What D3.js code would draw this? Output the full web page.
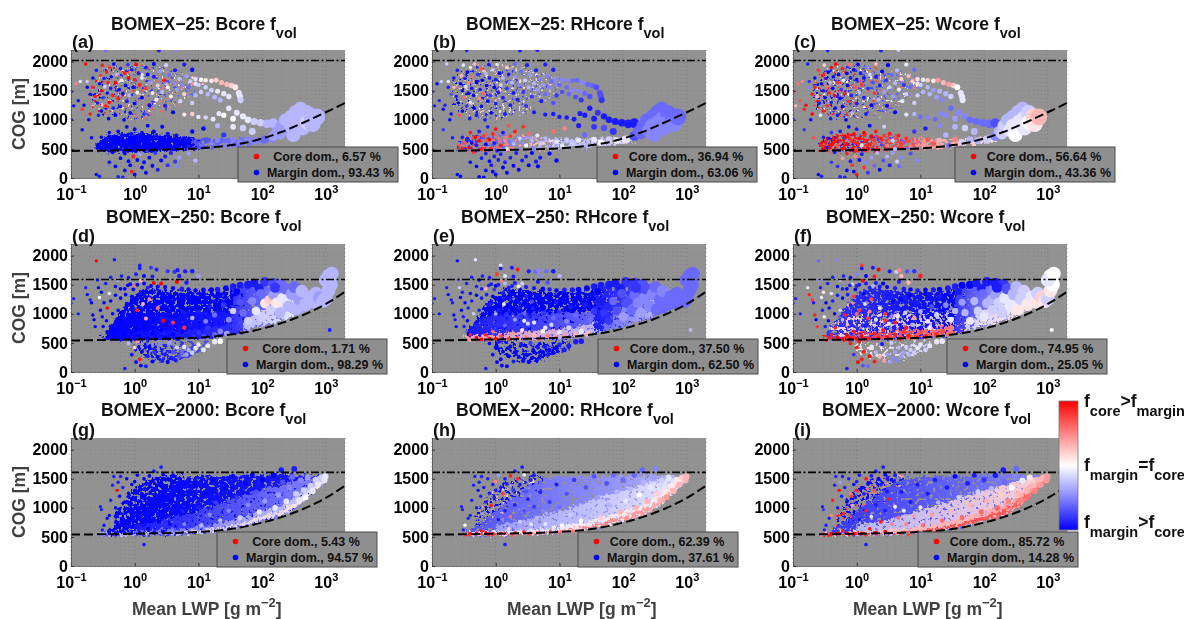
<!DOCTYPE html>
<html><head><meta charset="utf-8">
<script src="https://cdn.jsdelivr.net/npm/d3@7"></script>
<style>html,body{margin:0;padding:0;background:#fff}svg{display:block;filter:blur(.35px)}text{font-family:"Liberation Sans",Arial,sans-serif;font-weight:bold}</style>
</head><body><svg id="c" width="1184" height="619"></svg>
<script>
// ---- data ----
const xTickValues=[0.1,1,10,100,1000];
const xTickExp=["−1","0","1","2","3"];
const yTickValues=[0,500,1000,1500,2000];
const titleRuns=["BOMEX−25","BOMEX−250","BOMEX−2000"];
const coreNames=["Bcore","RHcore","Wcore"];
const panelLetters=["a","b","c","d","e","f","g","h","i"];
const corePct=[6.57,36.94,56.64,1.71,37.50,74.95,5.43,62.39,85.72];
const marginPct=[93.43,63.06,43.36,98.29,62.50,25.05,94.57,37.61,14.28];
const cloudTop=[2020,1590,1610];
const baseCurve25=[[.1,465],[.3,470],[1,480],[3,490],[10,510],[30,560],[60,615],[100,680],[200,790],[400,930],[1000,1130],[2000,1290]];
const baseCurve250=[[.1,540],[.3,550],[1,560],[3,570],[10,590],[30,640],[60,690],[100,745],[200,840],[400,960],[1000,1170],[2000,1380]];
const baseCurve2000=[[.1,540],[.3,545],[1,555],[3,565],[10,585],[30,630],[60,690],[100,745],[200,840],[400,960],[1000,1170],[2000,1380]];
const curves=[baseCurve25,baseCurve250,baseCurve2000];

// dense clouds: [lwp, lower cog, upper cog]
const band25Upper=[[.22,1250,1650],[.4,1050,1900],[1,1020,1970],[3,1100,1900],[6,1300,1800],[13,1520,1700]];
const band25Left=[[.26,480,600],[.4,455,730],[1,450,760],[3,470,740],[6,490,690],[11,505,650]];
const band25Right=[[8,505,680],[30,525,670],[60,560,690],[100,590,700],[160,620,720]];
const band250Main=[[.35,570,700],[.5,560,900],[.7,558,1150],[1,560,1320],[1.5,565,1430],[3,570,1410],[6,580,1380],[12,595,1370],[25,630,1390],[55,700,1440]];
const band250Mid=[[.4,570,800],[1,570,1000],[3,575,1020],[10,590,1020],[25,640,1040],[55,700,1050]];
const band250Low=[[.3,545,600],[1,555,660],[3,565,700],[10,590,740],[25,630,800],[55,690,860]];
const band250Right=[[35,670,1440],[100,790,1500],[200,880,1490],[400,1000,1400],[700,1120,1330]];
const band250Pale=[[50,700,860],[100,790,1080],[200,880,1230],[350,980,1300]];
const band250Island=[[1,350,520],[2,220,500],[3,170,480],[5,190,500],[8,280,530],[15,400,560]];
const band2000Spread=[[.5,650,900],[.8,750,1200],[1.5,900,1450],[3,1100,1540],[6,1350,1570]];
const band2000Outer=[[.35,530,580],[.6,530,750],[1,535,950],[2,540,1200],[4,550,1420],[10,575,1530],[30,640,1545],[100,790,1565],[250,930,1580],[400,1080,1560],[600,1260,1550],[950,1440,1540]];
const band2000Mid=[[1,535,700],[3,545,800],[10,575,950],[30,640,1120],[100,790,1300],[250,930,1420],[400,1080,1480],[600,1260,1510],[950,1440,1530]];
const band2000Low=[[.3,525,570],[1,535,600],[3,545,620],[10,575,680],[30,640,780],[100,790,950],[250,930,1110],[400,1080,1250],[600,1260,1400],[950,1440,1500]];
const band2000Rim=[[.28,525,560],[3,545,570],[10,575,610],[30,640,690],[100,790,860],[250,930,1020],[400,1080,1160],[600,1260,1320],[950,1440,1470]];
const bandsByRow=[
 [band25Upper,band25Upper,band25Upper,band25Left,band25Left,band25Right],
 [band250Island,band250Main,band250Mid,band250Low,band250Right,band250Pale],
 [band2000Spread,band2000Spread,band2000Outer,band2000Mid,band2000Low,band2000Rim]];
// dominance of each cloud at its left and right end (-10 margin … +10 core), one row per panel
const bandF=[
 [[10,4],[-10,-6],[2,1],[-10,-10],[-10,-10],[-7,-5]],
 [[4,1],[-10,-6],[1,-2],[9,1],[-9,-2],[-3,-2]],
 [[10,5],[-10,-5],[1,0],[10,7],[-10,-6],[5,1]],
 [[-10,-7],[-10,-10],[-10,-9],[-10,-8],[-8,-3],[-3,-1]],
 [[-10,-10],[-10,-10],[-9,-6],[4,-3],[-9,-6],[-6,-3]],
 [[1,-2],[-8,-10],[2,-3],[9,5],[-8,-1],[-2,1]],
 [[-10,-10],[-10,-10],[-10,-9],[-9,-5],[-7,-2],[-3,1]],
 [[-10,-9],[4,-1],[-7,-3],[-4,-1],[-1,1],[8,3]],
 [[-10,-9],[9,3],[-8,-5],[-3,2],[2,4],[9,6]]];
const bandCover=[
 [.1,.18,.07,.92,.92,.75],[.08,.2,.1,.42,.42,.75],[.12,.2,.07,.62,.28,.75],
 [.55,.93,1,1,1,.92],[.55,.93,1,.95,1,.92],[.4,.9,.45,.75,1,.9],
 [.75,.25,.97,1,1,1],[.42,.12,.92,1,1,1],[.48,.18,.92,1,1,1]];

// individual clouds: [lwp, cog, f Bcore, f RHcore, f Wcore]
const points25=[
[.1,1480,-9,-10,9],[.1,1010,-10,-10,-9],[.11,1240,-10,-9,3],[.12,1620,5,-10,6],[.13,1330,-10,-9,7],[.14,1660,-1,-2,5],[.15,1180,8,-10,9],[.15,830,-10,-8,-8],[.16,1250,-10,-9,10],[.17,1960,10,-2,-9],[.18,1660,-2,-1,-8],[.18,1560,-10,-9,-5],[.19,1000,-10,-10,-10],[.2,1440,-10,-7,9],[.2,1100,9,-10,10],[.21,690,-10,-9,7],[.22,1560,9,3,9],[.22,1720,-10,-10,-10],[.24,1400,9,-9,3],[.25,1850,-9,-9,8],
[.26,1290,-9,-10,-9],[.27,1080,-9,7,-1],[.28,1620,-10,-10,-10],[.29,1760,8,3,9],[.3,1500,10,-10,-9],[.3,1150,-10,-10,9],[.31,1940,9,-1,2],[.32,1380,-8,6,-10],[.33,1710,-9,-9,-9],[.34,1570,-2,-1,6],[.35,2190,-6,-9,-9],[.35,1240,9,-8,8],[.36,1820,9,-10,-10],[.37,1460,-10,-10,9],[.38,1640,9,5,-3],[.39,1020,-10,-9,-9],[.4,1900,8,-1,10],[.4,1300,10,-1,-9],[.42,1540,-9,-9,-10],[.43,1740,-10,6,-10],[.45,1420,9,-10,10],[.46,1200,-9,-10,-10],[.47,1960,-10,3,10],[.5,1640,10,-10,8],[.5,1080,-10,-9,-9],[.52,1780,-3,-8,-10],[.55,1370,9,5,-10],[.57,1520,-10,-9,-8],[.6,1880,-9,7,9],[.6,1230,-9,-10,-10],
[.62,1680,-1,-10,-1],[.65,1450,-10,6,9],[.68,1000,-10,-9,-10],[.7,1800,9,-3,-10],[.72,1590,-10,-10,-10],[.75,1320,-9,-10,8],[.78,1950,-8,-9,6],[.8,1720,10,-9,-9],[.82,1420,-3,-8,-9],[.85,1120,-10,-10,-3],[.9,1860,-9,-2,-10],[.95,1560,-10,-10,7],[1,1690,9,-9,-10],[1,1280,-10,-9,-9],[1.05,1950,10,-1,-10],[1.1,1470,0,-9,-3],[1.15,1800,-9,-10,-9],[1.2,1600,9,-2,8],[1.3,1380,-10,-9,-9],[1.3,1720,-1,-3,-10],[1.4,1100,-8,-9,-9],[1.5,1900,-9,2,-5],[1.5,1540,8,-8,-8],[1.6,1780,-10,-9,-2],[1.7,1250,-10,-9,-10],[1.8,1640,-4,-3,-7],[1.9,1460,1,-9,8],[2,1960,-10,-6,3],[2,1740,-9,-4,-9],[2.2,1350,1,-9,-3],
[2.3,1590,2,-5,-9],[2.4,2190,-9,-9,-9],[2.5,1830,-4,-6,-10],[2.7,1480,-3,-8,-4],[2.9,1680,9,-2,-8],[3,1240,-9,-8,-10],[3.1,1940,-2,-9,-10],[3.3,1560,1,-3,-2],[3.5,1770,-6,-4,-6],[3.7,1400,1,-8,-4],[4,1630,-5,-3,-3],[4,1130,-10,-9,-10],[4.3,1850,-9,-9,-3],[4.5,2200,-5,-9,-2],[4.6,1520,-4,-4,-1],[5,1700,-3,-5,2],[5.2,1320,-2,-9,-1],[5.5,1600,-5,-4,-8],[6,1950,-9,-9,-1],[6,1440,2,-6,-2],[6.5,1750,-4,-5,3],[7,1560,-6,-5,-6],[7.5,1660,-2,-6,2],[8,1860,-10,-9,-6],[8,1290,-2,-7,-2],[9,1620,-1,-5,1],
[9,1700,-1,-5,1],[11,1690,0,-5,-1],[13,1680,1,-5,2],[16,1670,1,-6,1],[19,1680,2,-6,4],[23,1640,3,-5,3],[28,1610,3,-6,4],[33,1590,2,-6,2],[38,1560,1,-7,0],[43,1460,-1,-7,-1],[45,1400,-1,-7,-1],[46,1340,-2,-8,-1],[10,1600,-2,-6,-2],[13,1560,-2,-6,-3],[16,1510,-2,-5,-4],[20,1490,-1,-5,-3],[25,1450,-1,-6,-3],[30,1400,-1,-7,-2],[11,1480,-2,-7,-3],[14,1440,-3,-6,-3],[18,1390,-3,-7,-4],[22,1340,-3,-8,-5],[9,1420,-3,-8,-2],
[6,1090,1,-9,-1],[8,1100,2,-9,-3],[10,1050,-1,-9,-6],[13,1040,-2,-9,-5],[17,1010,-1,-9,-6],[21,1110,-1,-9,-5],[25,1080,0,-9,-5],[30,1200,-1,-9,-6],[35,1020,0,-9,-4],[40,1120,-1,-8,-5],[50,1060,-1,-9,-5],[60,1000,-1,-9,-6],[75,970,-2,-9,-6],[95,950,-2,-9,-6],[120,930,-3,-9,-6],[150,940,-3,-9,-7],[35,880,-1,-8,-3],[50,860,-2,-7,-2],[70,800,-2,-8,-3],[20,900,-3,-9,-5],
[150,720,-4,-7,-5],[170,800,-4,-6,-3],[200,900,-4,-6,-2],[190,760,-4,-6,-2],[230,1000,-3,-6,-3],[250,820,-4,-5,-1],[280,1050,-3,-6,-3],[280,900,-3,-5,-1],[310,740,-3,-5,0],[340,1130,-3,-6,-3],[350,960,-3,-5,-1],[400,1180,-3,-6,-3],[420,1020,-3,-5,-1],[430,860,-3,-5,-1],[500,1120,-3,-6,-2],[520,960,-2,-5,0],[600,1060,-3,-6,2],[620,930,-3,-5,1],[720,1050,-3,-6,3],
[.27,560,-10,7,9],[.3,700,-10,-9,-9],[.3,500,-10,9,10],[.33,600,-10,7,9],[.36,680,-10,-9,-10],[.38,520,-10,10,10],[.4,780,-10,9,-8],[.42,600,-10,-10,10],[.45,480,-10,8,9],[.48,700,-10,10,10],[.5,560,-10,-9,7],[.55,800,-10,-9,-9],[.55,640,-10,10,9],[.6,500,-10,9,10],[.65,720,-10,8,10],[.7,580,-10,-10,10],[.75,880,-10,-9,-10],[.8,660,-10,10,8],[.85,500,-10,9,10],[.9,760,-10,9,10],[.95,600,-10,-9,9],[1,840,-10,9,-9],[1.05,470,-10,-9,9],[1.1,680,-10,6,10],[1.2,560,-10,9,-1],[1.3,780,-10,-9,10],[1.4,640,-10,5,9],[1.5,500,-10,-1,10],[1.6,900,-10,7,-10],[1.7,720,-10,8,10],[1.9,590,-10,-3,7],[2,800,-10,9,9],[2.2,480,-10,-5,8],[2.4,680,-10,-2,9],[2.7,880,-10,8,-2],[3,560,-10,0,5],[3.3,760,-10,6,9],[3.7,640,-10,-3,-2],[4,500,-10,-5,-3],[4.5,730,-10,-1,9],[5,590,-10,-2,8],[6,680,-10,-3,8],[7,540,-9,-4,5],[8,800,-10,6,-8],[9,620,-7,-1,6],[11,560,-6,-1,4],[12,850,-10,5,-9],[13,660,-7,-2,7],[16,590,-5,-2,7],[20,650,-5,-1,3],[25,740,-8,-6,-3],[28,560,-5,-3,-6],[35,660,-5,-1,5],[45,610,-5,0,-2],[60,660,-5,-2,-3],[80,640,-5,-1,-3],[110,660,-6,-1,-2],
[.25,60,-10,-10,-10],[.28,30,-9,-10,-9],[.4,270,-10,-10,-8],[.45,440,-10,8,-9],[.5,200,-10,-10,-8],[.55,20,-9,-10,-9],[.6,340,-10,-9,4],[.65,10,-9,-10,-9],[.7,130,-10,-10,-10],[.7,420,-10,-9,9],[.8,290,-10,-10,-9],[.85,220,-10,-9,8],[.9,110,9,-10,-10],[.95,370,9,-9,5],[1,60,-10,-10,9],[1.1,310,-10,-9,-10],[1.2,410,-4,-9,-9],[1.3,180,-10,-10,8],[1.4,270,-10,-9,-5],[1.5,90,-10,-10,-8],[1.7,350,-10,-9,-4],[1.9,210,-10,-10,-6],[2.1,430,-8,-9,-3],[2.3,140,-9,-10,-10],[2.6,300,-10,-9,-7],[3,370,-9,-9,-3],[3.3,220,-8,-10,-9],[3.7,430,-9,-10,-4],[4.3,280,-8,-9,-2],[4.6,200,-5,-10,-6],[5,350,-4,-9,-5],[7,420,-4,-10,-7],[9,300,-3,-10,-5]
];
const points250=[
[.1,1180,-9,-9,-9],[.11,1260,-9,-9,-9],[.13,1000,-9,-9,-9],[.17,1450,-9,-9,-1],[.18,1330,-10,-10,9],[.2,1240,-9,-9,8],[.21,1190,-10,-9,-9],[.22,980,-10,-10,9],[.23,900,-10,-9,-10],[.24,780,-10,-10,8],[.25,1910,10,-10,-6],[.26,1580,-9,-6,-4],[.27,1450,-10,-2,-9],[.28,1280,0,-10,-1],[.29,1060,-10,-10,-9],[.3,1370,-10,-9,1],[.31,950,-10,-9,0],[.33,1190,-10,-10,-10],[.35,1520,-9,-9,-9],[.37,1100,10,-9,-10],
[.4,1350,-1,-10,-1],[.42,1630,-9,-9,-9],[.45,1000,-10,-2,-10],[.48,1930,-9,-1,-5],[.5,1470,-10,-9,-10],[.55,1580,-3,-10,-2],[.6,1270,-10,-9,-10],[.62,1650,-9,-9,-9],[.7,1430,-10,3,-10],[.75,1150,-10,-9,3],[.8,1620,-9,-9,-10],[.85,1510,-10,-9,-2],[.9,1300,-10,-10,8],[1,1480,6,-10,-9],[1.05,1680,-9,8,-5],[1.1,1060,9,-9,8],[1.2,1830,-9,-1,8],[1.2,1780,-9,-9,-9],[1.25,1570,3,5,10],[1.3,1350,-10,-9,-10],
[1.35,1170,3,-1,-1],[1.4,1650,-10,-1,-10],[1.5,920,4,-9,8],[1.6,1450,-9,-9,-9],[1.7,1250,5,-9,7],[1.8,1790,-8,-9,-9],[1.9,1640,-9,-9,9],[2,1530,10,-9,-9],[2.2,1760,-9,9,10],[2.3,1100,6,-9,-1],[2.6,1520,10,-2,-10],[2.8,880,10,-1,8],[3,1300,-10,-9,-9],[3.3,1730,-8,-9,-9],[3.7,1210,-10,-7,-10],[4,850,8,-1,9],[4.2,1720,-8,-6,-2],[4.6,1550,10,-9,-9],[4.7,1750,-9,-5,5],[5,1650,-9,-5,3],[5.5,1420,-9,-10,-9],[6,760,8,-1,9],[6.2,1730,-9,-6,-7],[6.5,1540,-9,-7,3],[8,1730,-9,-9,-8],[10,1650,-4,-3,9],
[.32,780,-10,-9,-9],[.36,880,-10,-10,-10],[.42,1220,-10,-9,-9],[.46,760,-10,-9,9],[.5,1320,-10,-10,-9],[.55,1060,-10,-9,-2],[.6,1430,-10,-9,-9],[.66,980,-10,-10,9],[.72,1330,-10,-9,-9],[.78,1490,-10,-9,-9],[.85,1180,-10,-9,5],[.95,1420,-10,-8,-10],[1.1,1500,-10,-9,-9],[1.4,1520,-10,-3,-9],[1.8,1480,-10,-9,-3],[2.3,1470,-10,-1,-9],[3,1460,-10,-9,-10],[4,1440,-10,-9,-9],[5.5,1430,-9,-10,-9],[7,1420,-10,-9,-10],[9,1400,-10,-10,-9],[12,1410,-10,-9,-10],[16,1410,-10,-9,-9],[20,1420,-9,-10,-10],[27,1440,-10,-10,-9],[35,1470,-9,-9,-9],[45,1490,-9,-9,-10],[60,1500,-9,-9,-10],[75,1530,-9,-9,-9],[110,1550,-8,-8,-9],[150,1530,-7,-8,-9],[200,1510,-6,-7,-8],
[.4,640,-10,9,9],[.5,590,-10,10,10],[.6,560,-10,10,10],[.7,640,-10,9,10],[.8,580,-10,9,10],[.9,700,-10,6,9],[1,570,-10,10,10],[1.2,620,-10,7,10],[1.4,800,-10,-6,-9],[1.6,570,-10,8,9],[1.9,660,-10,4,9],[2.2,580,-10,7,10],[2.6,720,-10,1,9],[3,600,-10,5,9],[3.5,950,-10,-9,-5],[4,640,-10,3,9],[4.8,570,-10,6,8],[5.5,700,-10,0,8],[6.5,620,-9,5,9],[7.5,810,-9,-2,-3],[8.5,600,-8,4,8],[10,680,-8,-1,7],[12,610,-7,4,9],[14,760,-8,-2,-1],[18,640,-6,3,8],[22,700,-5,-1,7],[28,660,-4,3,6],
[.6,900,-10,-9,-3],[.8,1150,-10,-9,-9],[1,1000,-10,-3,6],[1.3,1260,-10,-9,-9],[1.6,1040,-10,-9,5],[2,900,-10,-4,-1],[2.4,1180,-10,-9,-9],[2.8,1000,-10,-6,8],[3.2,830,-10,-2,1],[3.8,1100,-10,-9,-9],[4.4,950,-10,-8,1],[5,1250,-10,-10,-10],[5.8,1020,-9,-8,-2],[6.8,1310,-10,-10,-10],[8,930,-3,-6,4],[9,1200,-10,-9,-9],[10,1040,-9,-8,-3],[12,1340,-10,-10,-10],[13,870,-5,-5,1],[15,1120,-9,-9,-7],[18,980,-6,-6,-2],[20,1300,-10,-10,-9],[25,1150,-8,-9,-5],[30,900,-5,-6,-1],[35,1050,-2,-8,-3],[40,1380,-10,-10,-9],[45,1200,-7,-9,-4],
[50,1020,-6,-8,-3],[60,880,-2,-8,-1],[70,1220,-5,-6,-3],[80,1050,-1,-7,-2],[90,1440,-9,-9,-9],[95,1350,-6,-7,-6],[100,950,-2,-4,-1],[110,1180,1,-7,-3],[130,1240,2,-7,-3],[135,1060,-2,-6,-2],[150,1320,-4,-6,-4],[160,1450,-8,-8,-9],[170,1190,1,-5,-2],[190,1020,-3,-4,-2],[210,1270,-1,-5,-1],[230,1430,-6,-7,-7],[260,1130,-3,-5,-1],[290,1340,-4,-5,-3],[320,1460,-6,-6,-3],[340,1080,-3,-6,1],[380,1250,-4,-6,-2],[420,1390,-3,-5,-2],[480,1160,-3,-6,1],[560,1290,-3,-6,-1],[640,1200,-3,-6,1],[700,1350,-3,-6,-2],[800,1280,-4,-6,2],[900,1220,-3,-6,1],[1000,1260,-3,-6,-2],[1100,1400,-3,-6,1],[1200,1500,-3,-6,0],[1180,1580,-3,-6,0],[1100,1650,-3,-6,0],[1000,1580,-3,-6,-1],[1240,1690,-3,-6,0],
[.7,60,-9,-9,-9],[.8,490,-3,-10,9],[.9,300,-10,-10,-8],[1,420,2,-10,9],[1.05,170,-10,-10,10],[1.1,520,4,-9,9],[1.2,220,9,-10,9],[1.25,110,-10,-10,-7],[1.3,350,-10,-10,9],[1.5,100,-9,-10,-6],[1.6,270,-9,-10,10],[1.7,440,-10,-10,-1],[1.9,180,-10,-9,9],[2,340,-8,-10,-3],[2.3,260,-10,-10,3],[2.5,480,-5,-9,-9],[2.7,190,-9,-10,4],[3,300,-9,-10,-4],[3.3,170,-10,-10,-4],[3.5,500,-4,-8,-2],[3.7,240,-9,-10,-5],[4,340,-7,-10,-4],[4.4,200,-9,-10,-5],[4.6,420,-2,-9,-3],[5,270,-7,-10,-4],[5.5,340,-6,-10,-4],[6,430,-1,-9,-2],[6.5,300,-4,-9,-3],[7,380,-3,-10,-2],[8,330,-2,-10,-2],[9,410,-1,-10,-1],[10,470,-1,-9,-1],[12,380,-1,-9,-2],[14,450,-1,-9,-1],[18,520,-1,-9,-1],[22,530,0,-9,-1]
];
const points2000=[
[1.4,370,-9,-9,-9],[.29,1020,-9,-9,-9],[.3,970,-9,-9,-8],[.31,620,-9,-9,-9],[.33,700,-10,0,-9],[.37,820,-10,-9,-9],[.4,870,-10,-9,5],[.42,1130,-9,-9,9],[.45,1390,-9,-9,-9],[.47,1540,-9,-9,-9],[.5,1000,-10,-9,-9],[.53,1300,10,-10,10],[.55,1440,-9,-9,-4],[.58,1200,-10,-9,-9],[.6,1540,-9,-9,-9],[.62,900,-9,-4,9],[.65,1350,-9,-9,-9],[.7,1100,-10,-9,-10],[.75,1500,-10,-9,-9],[.8,1250,-10,-9,6],
[.85,1040,-10,9,-3],[.9,1400,-10,-9,-10],[.95,1180,-10,-9,-9],[1,1450,-10,5,-9],[1,1300,-10,-9,9],[1.1,1560,-10,-4,-9],[1.2,1350,-10,-9,-10],[1.3,1240,-10,8,-9],[1.4,1500,-10,-9,9],[1.5,1410,-10,-9,-10],[1.7,1550,-10,9,-9],[1.9,1300,-10,-8,7],[2,1630,-9,-9,-9],[2.2,1500,-10,8,-10],[2.4,1400,-10,-9,-9],[2.6,1700,-9,-9,-9],[2.8,1570,-10,-1,-10],[3,1280,-10,-7,-9],[3.5,1480,-10,-9,-10],[4,1560,-10,-9,-9],
[.6,600,-10,9,9],[.4,560,-10,10,10],[.5,570,-10,10,10],[.7,570,-10,10,10],[.9,560,-10,10,10],[1.2,560,-10,9,10],[1.6,640,-10,2,9],[2,570,-10,8,10],[2.8,590,-10,8,10],[1.1,800,-10,-9,-9],[1.4,950,-10,-9,9],[1.7,850,-10,6,-1],[2,1050,-10,-9,-9],[2.4,760,-10,-2,9],[2.8,950,-10,-7,-9],[3.2,1150,-10,-9,9],[3.6,720,-10,-1,5],[4,1020,-10,-8,1],[4.5,830,-8,-3,6],[5,1270,-10,-9,-9],[5.5,950,-9,-5,-1],[6,720,-5,-1,5],[7,1100,-10,-8,-9],[8,860,-8,-3,4],[9,1400,-10,-9,-9],[10,1010,-9,-6,-1],[11,700,-3,0,6],[13,1240,-10,-7,-9],[15,880,-5,-2,4],[17,1480,-10,-8,-9],[19,1090,-8,-5,-3],[22,780,-3,0,6],[26,1350,-10,-7,-9],[30,950,-5,-3,3],[35,1540,-10,-7,-10],[40,1180,-8,-4,-2],[45,830,-2,2,6],[55,1420,-10,-7,-9],[60,1050,-5,-3,3],
[70,1560,-10,-6,-9],[80,1270,-7,-3,-2],[90,930,-1,3,6],[100,1480,-10,-6,-8],[110,1120,-4,-1,3],[130,1330,-6,-3,-3],[150,1560,-10,-6,-9],[160,1000,-1,3,6],[180,1220,-4,0,2],[200,1650,-9,-6,-9],[210,1440,-7,-3,-6],[240,1110,-1,3,5],[270,1350,-5,-1,0],[300,1530,-6,-4,-5],[320,1670,-9,-5,-6],[340,1240,-2,2,3],[380,1130,-1,3,5],[400,1470,-5,-2,-1],[450,1300,-2,1,3],[480,1180,0,4,6],[520,1520,-4,-1,1],[580,1380,-2,1,3],[620,1290,-1,3,5],[700,1480,-2,1,3],[760,1400,-1,3,4],[850,1520,-2,2,3],[950,1480,-1,3,4],[980,1540,-1,3,4]
];
const pointsByRow=[points25,points250,points2000];
const strayPoints250=[[1150,720,-9,-3,0]];
const strayByRow=[[],strayPoints250,[]];
const colorbarF=[-10,-5,0,5,10];

// ---- layout ----
const colLeft=[71,432,793],rowTop=[50,244,438],plotW=274,plotH=128;
const legendLeft=[238,597,955,227,598,947,217,578,918],legendTop=[147,339,532],legendW=160,legendH=35;
const titleLeft=[111,466,831,106,461,826,101,456,822],titleBase=[30,223,416];
const xlabelLeft=[132,507,853];

const svg=d3.select("#c");
const defs=svg.append("defs");
const x=d3.scaleLog().domain([.1,2000]).range([0,plotW]);
const y=d3.scaleLinear().domain([0,2200]).range([plotH,0]);
const color=d3.scaleLinear().domain([-10,-5,0,5,10]).range(["#0000ff","#8585ff","#ffffff","#ff8585","#ff0000"]);
const radius=[
 d3.scaleLog().domain([.1,1,10,30,100,300,1000]).range([1.7,1.9,2.2,2.7,3.8,7,9]).clamp(true),
 d3.scaleLog().domain([.1,1,10,30,100,300,1000]).range([1.6,1.9,2.3,3,4.6,6,7]).clamp(true),
 d3.scaleLog().domain([.1,1,10,100,1000]).range([1.5,1.8,2.1,2.6,3.2]).clamp(true)];
const minorVals=[];for(let d=.1;d<1000;d*=10)for(let m=1;m<10;m++)minorVals.push(d*m);minorVals.push(1000,2000);

// texture for the dense clouds: rough edges, and holes where the cloud is not solid
function cloudFilter(id,seed,cover){
  const f=defs.append("filter").attr("id",id).attr("x","-8%").attr("y","-25%").attr("width","116%").attr("height","150%").attr("color-interpolation-filters","sRGB");
  f.append("feTurbulence").attr("type","fractalNoise").attr("baseFrequency",".3").attr("numOctaves",2).attr("seed",seed).attr("result","n");
  f.append("feDisplacementMap").attr("in","SourceGraphic").attr("in2","n").attr("scale",9).attr("xChannelSelector","R").attr("yChannelSelector","G").attr("result","d");
  f.append("feGaussianBlur").attr("in","d").attr("stdDeviation",.6).attr("result","s");
  const t=.5+.4*(.5-cover),k=14;
  f.append("feColorMatrix").attr("in","n").attr("type","matrix").attr("values",`0 0 0 0 0 0 0 0 0 0 0 0 0 0 0 ${k} 0 0 0 ${-k*t}`).attr("result","m");
  f.append("feComposite").attr("in","s").attr("in2","m").attr("operator","in");
}

panelLetters.forEach((L,i)=>{
  const r=Math.floor(i/3),c=i%3,k=c;
  const g=svg.append("g").attr("transform",`translate(${colLeft[c]},${rowTop[r]})`);
  defs.append("clipPath").attr("id","clip"+L).append("rect").attr("width",plotW).attr("height",plotH);
  g.append("rect").attr("width",plotW).attr("height",plotH).attr("fill","#929292");
  g.append("g").selectAll("line").data(minorVals).join("line").attr("x1",d=>x(d)).attr("x2",d=>x(d)).attr("y1",0).attr("y2",plotH)
    .attr("stroke",d=>xTickValues.includes(d)?"#6c6c6c":"#828282").attr("stroke-width",.8).attr("stroke-dasharray","1 3");
  g.append("g").selectAll("line").data(yTickValues).join("line").attr("x1",0).attr("x2",plotW).attr("y1",d=>y(d)).attr("y2",d=>y(d))
    .attr("stroke","#828282").attr("stroke-width",.8).attr("stroke-dasharray","1 3");
  const body=g.append("g").attr("clip-path",`url(#clip${L})`);
  const area=d3.area().x(d=>x(d[0])).y0(d=>y(d[1])).y1(d=>y(d[2])).curve(d3.curveMonotoneX);
  bandsByRow[r].forEach((b,j)=>{
    const gid=`grad${L}${j}`,fid=`tex${L}${j}`;
    const gr=defs.append("linearGradient").attr("id",gid).attr("gradientUnits","userSpaceOnUse")
      .attr("x1",x(b[0][0])).attr("x2",x(b[b.length-1][0])).attr("y1",0).attr("y2",0);
    gr.append("stop").attr("offset",0).attr("stop-color",color(bandF[i][j][0]));
    gr.append("stop").attr("offset",1).attr("stop-color",color(bandF[i][j][1]));
    cloudFilter(fid,1+j+i*7,bandCover[i][j]);
    body.append("path").attr("d",area(b)).attr("fill",`url(#${gid})`).attr("filter",`url(#${fid})`);
  });
  body.append("g").selectAll("circle").data(pointsByRow[r]).join("circle")
    .attr("cx",d=>x(d[0])).attr("cy",d=>y(d[1])).attr("r",d=>radius[r](d[0])).attr("fill",d=>color(d[2+k]));
  body.append("g").selectAll("circle").data(strayByRow[r]).join("circle")
    .attr("cx",d=>x(d[0])).attr("cy",d=>y(d[1])).attr("r",2).attr("fill",d=>color(d[2+k]));
  const line=d3.line().x(d=>x(d[0])).y(d=>y(d[1])).curve(d3.curveMonotoneX);
  body.append("path").attr("d",line(curves[r])).attr("fill","none").attr("stroke","#000").attr("stroke-width",2).attr("stroke-dasharray","9 4");
  body.append("line").attr("x1",0).attr("x2",plotW).attr("y1",y(cloudTop[r])).attr("y2",y(cloudTop[r])).attr("stroke","#000").attr("stroke-width",1.6).attr("stroke-dasharray","8 2.5 2 2.5");
  // axes
  const ax=g.append("g").attr("transform",`translate(0,${plotH})`).call(d3.axisBottom(x).tickValues(xTickValues).tickSize(-3).tickFormat(""));
  ax.select(".domain").attr("stroke","#555").attr("stroke-width",.8);
  ax.selectAll(".tick line").attr("stroke","#333");
  ax.selectAll(".tick").append("text").attr("fill","#000").attr("text-anchor","middle").attr("y",22).attr("dy",0).attr("font-size",16).attr("dx",0)
    .each(function(d,ti){const t=d3.select(this);t.append("tspan").text("10");t.append("tspan").attr("dy",-7).attr("font-size",11).text(xTickExp[ti]);});
  const ay=g.append("g").call(d3.axisLeft(y).tickValues(yTickValues).tickSize(-3).tickPadding(3).tickFormat(d3.format("d")));
  ay.select(".domain").attr("stroke","#555").attr("stroke-width",.8);
  ay.selectAll(".tick line").attr("stroke","#333");
  ay.selectAll("text").attr("font-size",16).attr("fill","#000").attr("font-family",'"Liberation Sans",Arial,sans-serif');
  // letter and title
  g.append("text").attr("x",1).attr("y",-2).attr("font-size",18).attr("fill","#111").text(`(${L})`);
  const tt=svg.append("text").attr("x",titleLeft[i]).attr("y",titleBase[r]).attr("font-size",17.5).attr("fill","#111");
  tt.append("tspan").text(`${titleRuns[r]}: ${coreNames[c]} f`);
  tt.append("tspan").attr("dy",8).attr("font-size",14.5).text("vol");
  // legend
  const lg=svg.append("g").attr("transform",`translate(${legendLeft[i]},${legendTop[r]})`);
  lg.append("rect").attr("width",legendW).attr("height",legendH).attr("fill","#8f8f8f").attr("stroke","#4a4a4a").attr("stroke-width",1);
  lg.append("circle").attr("cx",18.5).attr("cy",9.5).attr("r",2.8).attr("fill","#ff0000");
  lg.append("circle").attr("cx",18.5).attr("cy",25.5).attr("r",2.8).attr("fill","#0000ff");
  lg.append("text").attr("x",89).attr("y",14).attr("text-anchor","middle").attr("font-size",12.5).attr("fill","#111").text(`Core dom., ${corePct[i].toFixed(2)} %`);
  lg.append("text").attr("x",92.5).attr("y",30).attr("text-anchor","middle").attr("font-size",12.5).attr("fill","#111").text(`Margin dom., ${marginPct[i].toFixed(2)} %`);
});
// axis titles
[114,308,502].forEach(cy=>{
  svg.append("text").attr("transform",`translate(25,${cy}) rotate(-90)`).attr("text-anchor","middle").attr("font-size",17.5).attr("fill","#404040").text("COG [m]");
});
xlabelLeft.forEach(lx=>{
  const t=svg.append("text").attr("x",lx).attr("y",615).attr("font-size",17.5).attr("fill","#404040");
  t.append("tspan").text("Mean LWP [g m");
  t.append("tspan").attr("dy",-8).attr("font-size",13).text("−2");
  t.append("tspan").attr("dy",8).text("]");
});
// colour bar
const grad=defs.append("linearGradient").attr("id","cb").attr("x1",0).attr("x2",0).attr("y1",1).attr("y2",0);
colorbarF.forEach(f=>grad.append("stop").attr("offset",(f+10)/20).attr("stop-color",color(f)));
svg.append("rect").attr("x",1059).attr("y",401).attr("width",19).attr("height",129).attr("fill","url(#cb)").attr("stroke","#777").attr("stroke-width",.8);
[[407,"core",">","margin"],[471,"margin","=","core"],[528,"margin",">","core"]].forEach(([by,a,op,b])=>{
  const t=svg.append("text").attr("x",1084).attr("y",by).attr("font-size",17.5).attr("fill","#111");
  t.append("tspan").text("f");
  t.append("tspan").attr("dy",9).attr("font-size",14.5).text(a);
  t.append("tspan").attr("dy",-9).text(op+"f");
  t.append("tspan").attr("dy",9).attr("font-size",14.5).text(b);
});
</script></body></html>
